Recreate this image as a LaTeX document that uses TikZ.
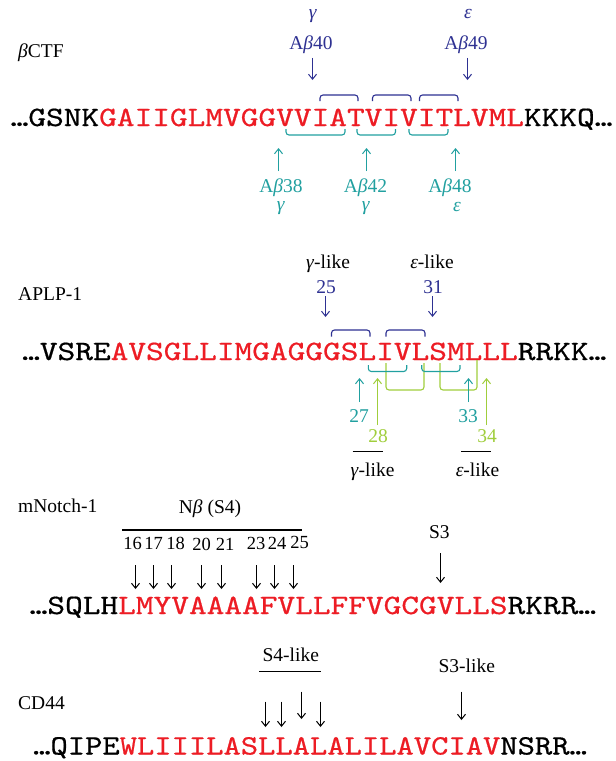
\documentclass[tikz,border=0pt]{standalone}
\usepackage{fontspec}
\setmainfont{Liberation Serif}
\newfontfamily\seqfam{lmmono10-regular.otf}[RawFeature={embolden=0.6}]
\usetikzlibrary{arrows.meta}
\definecolor{cblue}{RGB}{46,49,146}
\definecolor{cteal}{RGB}{33,160,160}
\definecolor{cgreen}{RGB}{160,206,60}
\definecolor{cred}{RGB}{237,28,36}
\newcommand\lblsize{\fontsize{19.5bp}{22bp}\selectfont}
\newcommand\numsize{\fontsize{18.5bp}{22bp}\selectfont}
\newcommand\seqsize{\fontsize{28bp}{30bp}\selectfont}
\tikzset{
  lab/.style={font=\lblsize, inner sep=0, anchor=base},
  seqnode/.style={font=\seqfam\seqsize, inner sep=0, anchor=base west},
  arr/.style={line width=1bp, -{Straight Barb[length=5bp,width=8bp]}},
  brk/.style={line width=1.1bp, rounded corners=3bp},
  rule/.style={line width=1.1bp},
}
\begin{document}
\begin{tikzpicture}[x=1bp,y=-1bp]
\fill[white] (0,0) rectangle (616,761);
\useasboundingbox (0,0) rectangle (616,761);

% ---------------- beta CTF ----------------
\node[seqnode] (seqA) at (10.5,126) {\scalebox{1.204}[1]{…GSNK\textcolor{cred}{GAIIGLMVGGVVIATVIVITLVML}KKKQ…}};
\node[lab, anchor=base west] (lblA) at (18,58) {\textit{β}CTF};
\node[lab, text=cblue] (gA) at (313,19) {\textit{γ}};
\node[lab, text=cblue] (ab40) at (311,50) {A\textit{β}40};
\node[lab, text=cblue] (eA) at (468,19) {\textit{ε}};
\node[lab, text=cblue] (ab49) at (466,50) {A\textit{β}49};
\coordinate (p40a) at (312.5,58); \coordinate (p40b) at (312.5,80);
\coordinate (p49a) at (467.5,58); \coordinate (p49b) at (467.5,80);
\draw[arr, cblue] (p40a) -- (p40b);
\draw[arr, cblue] (p49a) -- (p49b);
\draw[brk, cblue] (320,101) |- (358,95) -- (358,101);
\draw[brk, cblue] (372.5,101) |- (411,95) -- (411,101);
\draw[brk, cblue] (419.5,101) |- (458,95) -- (458,101);
\draw[brk, cteal] (286,129) |- (345,135) -- (345,129);
\draw[brk, cteal] (357,129) |- (395.5,135) -- (395.5,129);
\draw[brk, cteal] (409,129) |- (448,135) -- (448,129);
\coordinate (p38a) at (278.5,171); \coordinate (p38b) at (278.5,148);
\coordinate (p42a) at (366.5,171); \coordinate (p42b) at (366.5,148);
\coordinate (p48a) at (455.5,171); \coordinate (p48b) at (455.5,148);
\draw[arr, cteal] (p38a) -- (p38b);
\draw[arr, cteal] (p42a) -- (p42b);
\draw[arr, cteal] (p48a) -- (p48b);
\node[lab, text=cteal] (ab38) at (281,192) {A\textit{β}38};
\node[lab, text=cteal] (ab42) at (365.5,192) {A\textit{β}42};
\node[lab, text=cteal] (ab48) at (450,192) {A\textit{β}48};
\node[lab, text=cteal] (gB1) at (281,210) {\textit{γ}};
\node[lab, text=cteal] (gB2) at (366,210) {\textit{γ}};
\node[lab, text=cteal] (eB) at (457,211) {\textit{ε}};

% ---------------- APLP-1 ----------------
\node[seqnode] (seqB) at (22,360) {\scalebox{1.204}[1]{…VSRE\textcolor{cred}{AVSGLLIMGAGGGSLIVLSMLLL}RRKK…}};
\node[lab, anchor=base west] (lblB) at (18,300) {APLP-1};
\node[lab] (gl1) at (328,268) {\textit{γ}-like};
\node[lab] (el1) at (432,268) {\textit{ε}-like};
\node[lab, text=cblue] (n25) at (326,293) {25};
\node[lab, text=cblue] (n31) at (433,293) {31};
\coordinate (q25a) at (325.5,296); \coordinate (q25b) at (325.5,317);
\coordinate (q31a) at (432.5,296); \coordinate (q31b) at (432.5,317);
\draw[arr, cblue] (q25a) -- (q25b);
\draw[arr, cblue] (q31a) -- (q31b);
\draw[brk, cblue] (331.5,336.5) |- (370,330) -- (370,336.5);
\draw[brk, cblue] (386,336.5) |- (425,330) -- (425,336.5);
\draw[brk, cgreen] (386,363) |- (424,390) -- (424,363);
\draw[brk, cgreen] (440,363) |- (477,390) -- (477,360);
\draw[brk, cteal] (368.3,365) |- (406.7,371.5) -- (406.7,365);
\draw[brk, cteal] (421.7,365) |- (460,371.5) -- (460,365);
\coordinate (q27a) at (359.5,402); \coordinate (q27b) at (359.5,378);
\coordinate (q33a) at (468.5,402); \coordinate (q33b) at (468.5,378);
\coordinate (q28a) at (377.5,425); \coordinate (q28b) at (377.5,378);
\coordinate (q34a) at (486.5,425); \coordinate (q34b) at (486.5,378);
\draw[arr, cgreen] (q28a) -- (q28b);
\draw[arr, cgreen] (q34a) -- (q34b);
\draw[arr, cteal] (q27a) -- (q27b);
\draw[arr, cteal] (q33a) -- (q33b);
\node[lab, text=cteal] (n27) at (359,422) {27};
\node[lab, text=cteal] (n33) at (468,422) {33};
\node[lab, text=cgreen] (n28) at (378,442) {28};
\node[lab, text=cgreen] (n34) at (487,442) {34};
\draw[rule] (352.7,451.7) -- (382.7,451.7);
\draw[rule] (461,451.7) -- (491,451.7);
\node[lab] (gl2) at (372.5,476) {\textit{γ}-like};
\node[lab] (el2) at (477.5,476) {\textit{ε}-like};

% ---------------- mNotch-1 ----------------
\node[seqnode] (seqC) at (29.5,614) {\scalebox{1.204}[1]{…SQLH\textcolor{cred}{LMYVAAAAFVLLFFVGCGVLLS}RKRR…}};
\node[lab, anchor=base west] (lblC) at (18,512) {mNotch-1};
\node[lab] (nb) at (210,513) {N\textit{β} (S4)};
\draw[rule] (122,530) -- (302,530);
\foreach \nm/\xx/\yy in {16/132.5/549,17/153.5/549,18/175.5/549,20/201.5/550.5,21/225/550.5,23/256/549,24/277/549,25/299.5/548.5}
  \node[lab, font=\numsize] (c\nm) at (\xx,\yy) {\nm};
\foreach \nm/\xx in {16/135.5,17/153.5,18/171.5,20/201.5,21/221.5,23/256.5,24/274.5,25/293.5}{
  \coordinate (r\nm a) at (\xx,565);
  \coordinate (r\nm b) at (\xx,589);
  \draw[arr] (r\nm a) -- (r\nm b);
}
\node[lab] (s3) at (439.3,538) {S3};
\coordinate (s3a) at (440.5,553); \coordinate (s3b) at (440.5,583);
\draw[arr] (s3a) -- (s3b);

% ---------------- CD44 ----------------
\node[seqnode] (seqD) at (33,754.5) {\scalebox{1.177}[1]{…QIPE\textcolor{cred}{WLIIILASLLALALILAVCIAV}NSRR…}};
\node[lab, anchor=base west] (lblD) at (18,709.5) {CD44};
\node[lab] (s4l) at (290.8,661) {S4-like};
\draw[rule] (259.3,671.7) -- (321.4,671.7);
\node[lab] (s3l) at (466.8,672.5) {S3-like};
\foreach \nm/\xx/\ya/\yb in {1/265.5/701.7/727,2/281.5/701.7/727,3/301.5/691.7/719,4/320.5/701.7/727,5/461.5/691.7/720}{
  \coordinate (t\nm a) at (\xx,\ya);
  \coordinate (t\nm b) at (\xx,\yb);
  \draw[arr] (t\nm a) -- (t\nm b);
}
\end{tikzpicture}
\end{document}
